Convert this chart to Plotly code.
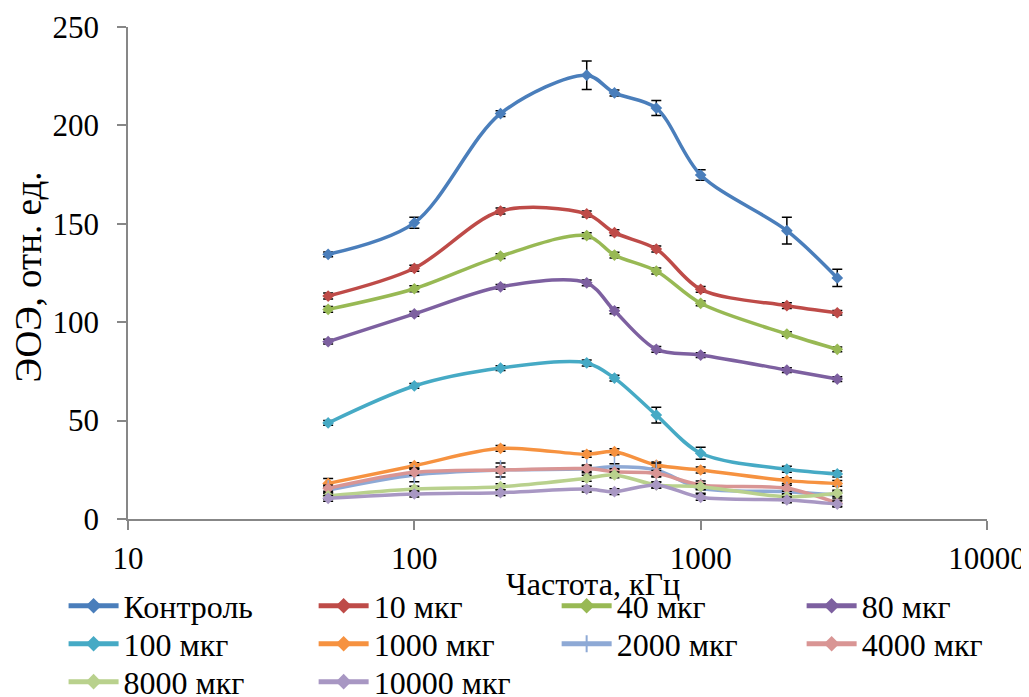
import plotly.graph_objects as go

freq = [50, 100, 200, 400, 500, 700, 1000, 2000, 3000]

names = ["Контроль", "10 мкг", "40 мкг", "80 мкг", "100 мкг", "1000 мкг",
         "2000 мкг", "4000 мкг", "8000 мкг", "10000 мкг"]

control = [134.5, 150.5, 206.0, 225.5, 216.5, 208.8, 174.8, 146.5, 122.5]
mkg10 = [113.3, 127.4, 156.5, 155.0, 145.5, 137.2, 116.7, 108.4, 104.8]
mkg40 = [106.5, 117.0, 133.6, 144.0, 134.1, 126.0, 109.6, 94.0, 86.2]
mkg80 = [90.1, 104.2, 118.0, 120.0, 105.8, 86.2, 83.3, 75.7, 71.1]
mkg100 = [48.8, 67.6, 76.7, 79.3, 71.6, 52.8, 33.4, 25.3, 22.9]
mkg1000 = [18.1, 27.1, 35.9, 32.9, 34.2, 27.4, 24.9, 19.5, 18.1]
mkg2000 = [14.7, 22.4, 24.9, 25.5, 26.6, 24.9, 15.6, 13.9, 12.2]
mkg4000 = [15.6, 23.7, 24.9, 25.6, 24.0, 23.2, 17.3, 15.6, 8.0]
mkg8000 = [11.7, 15.2, 16.4, 20.7, 22.4, 17.3, 16.4, 11.3, 13.1]
mkg10000 = [10.5, 12.7, 13.4, 15.2, 13.9, 17.3, 11.0, 9.7, 7.6]

err_control = [1.2, 2.8, 1.5, 7.2, 1.5, 3.8, 2.7, 6.8, 4.4]
err_10 = [1.5, 1.5, 1.5, 1.5, 1.5, 1.5, 1.5, 1.5, 1.2]
err_40 = [1.5, 1.5, 1.2, 1.5, 1.5, 1.5, 1.2, 1.2, 1.2]
err_80 = [1.2, 1.2, 1.2, 1.5, 1.5, 1.5, 1.2, 1.2, 1.2]
err_100 = [1.2, 1.2, 1.2, 1.5, 1.5, 4.0, 3.0, 1.5, 1.5]
err_1000 = [2.5, 1.5, 1.5, 1.5, 1.5, 1.5, 1.5, 1.5, 1.5]
err_2000 = [1.5, 3.5, 3.5, 2.0, 1.5, 3.5, 2.5, 1.5, 1.5]
err_4000 = [1.5, 1.5, 1.5, 1.5, 1.5, 1.5, 2.0, 1.5, 1.5]
err_8000 = [1.5, 1.5, 1.5, 1.5, 1.5, 1.5, 1.5, 1.5, 1.5]
err_10000 = [1.5, 1.5, 1.5, 1.5, 1.5, 1.5, 1.5, 1.5, 1.5]

series = [control, mkg10, mkg40, mkg80, mkg100, mkg1000, mkg2000, mkg4000, mkg8000, mkg10000]
errors = [err_control, err_10, err_40, err_80, err_100, err_1000, err_2000, err_4000, err_8000, err_10000]
colors = ["#4A7EBB", "#BE4B48", "#98B954", "#7D60A0", "#46AAC5", "#F69240",
          "#8EA9D5", "#D99594", "#B9D18D", "#A897C3"]

# legend grid: 4 columns x 3 rows (paper coords of each entry)
legend_cols = [-0.075, 0.2161, 0.4990, 0.7842]
legend_rows = [-0.1768, -0.254, -0.331]

font_family = "Liberation Serif, Times New Roman, serif"

fig = go.Figure()
legend_layout = {}
for i, (name, ys, es, col) in enumerate(zip(names, series, errors, colors)):
    if name == "2000 мкг":
        marker = dict(symbol="line-ns-open", size=14, color=col, line=dict(width=1.5, color=col))
    else:
        marker = dict(symbol="diamond", size=9, color=col, line=dict(width=0))
    lg = "legend" if i == 0 else f"legend{i + 1}"
    fig.add_trace(go.Scatter(
        x=freq, y=ys, name=name, mode="lines+markers", legend=lg,
        line=dict(color=col, width=3.5, shape="spline", smoothing=0.9),
        marker=marker,
        error_y=dict(type="data", array=es, visible=True, color="black", thickness=1.5, width=5),
    ))
    legend_layout[lg] = dict(
        orientation="h", x=legend_cols[i % 4], y=legend_rows[i // 4],
        xanchor="left", yanchor="middle", itemwidth=50,
        font=dict(family=font_family, size=32, color="black"),
        bgcolor="rgba(0,0,0,0)", itemsizing="constant",
    )

fig.update_layout(
    width=1029, height=697,
    margin=dict(l=120, r=50, t=19, b=186, autoexpand=False),
    plot_bgcolor="white", paper_bgcolor="white",
    font=dict(family=font_family, size=31, color="black"),
    showlegend=True,
    xaxis=dict(
        type="log", range=[1, 4], showgrid=False, zeroline=False,
        showline=True, linecolor="#878787", linewidth=1.5,
        ticks="outside", ticklen=9, tickcolor="#878787", tickwidth=1.5,
        tickvals=[10, 100, 1000, 10000], ticktext=["10", "100", "1000", "10000"],
        tickfont=dict(size=31), ticklabelstandoff=2, automargin=False,
    ),
    yaxis=dict(
        range=[0, 250], showgrid=False, zeroline=False,
        showline=True, linecolor="#878787", linewidth=1.5,
        ticks="outside", ticklen=9, tickcolor="#878787", tickwidth=1.5,
        tickvals=[0, 50, 100, 150, 200, 250],
        tickfont=dict(size=31), ticklabelstandoff=12, automargin=False,
    ),
    annotations=[
        dict(text="Частота, кГц", xref="paper", yref="paper", x=0.541, y=-0.132,
             xanchor="center", yanchor="middle", showarrow=False, font=dict(size=32)),
        dict(text="ЭОЭ, отн. ед.", xref="paper", yref="paper", x=-0.1164, y=0.491,
             xanchor="center", yanchor="middle", textangle=-90, showarrow=False, font=dict(size=37)),
    ],
)
fig.update_layout(**legend_layout)

fig.write_html("out.html")
